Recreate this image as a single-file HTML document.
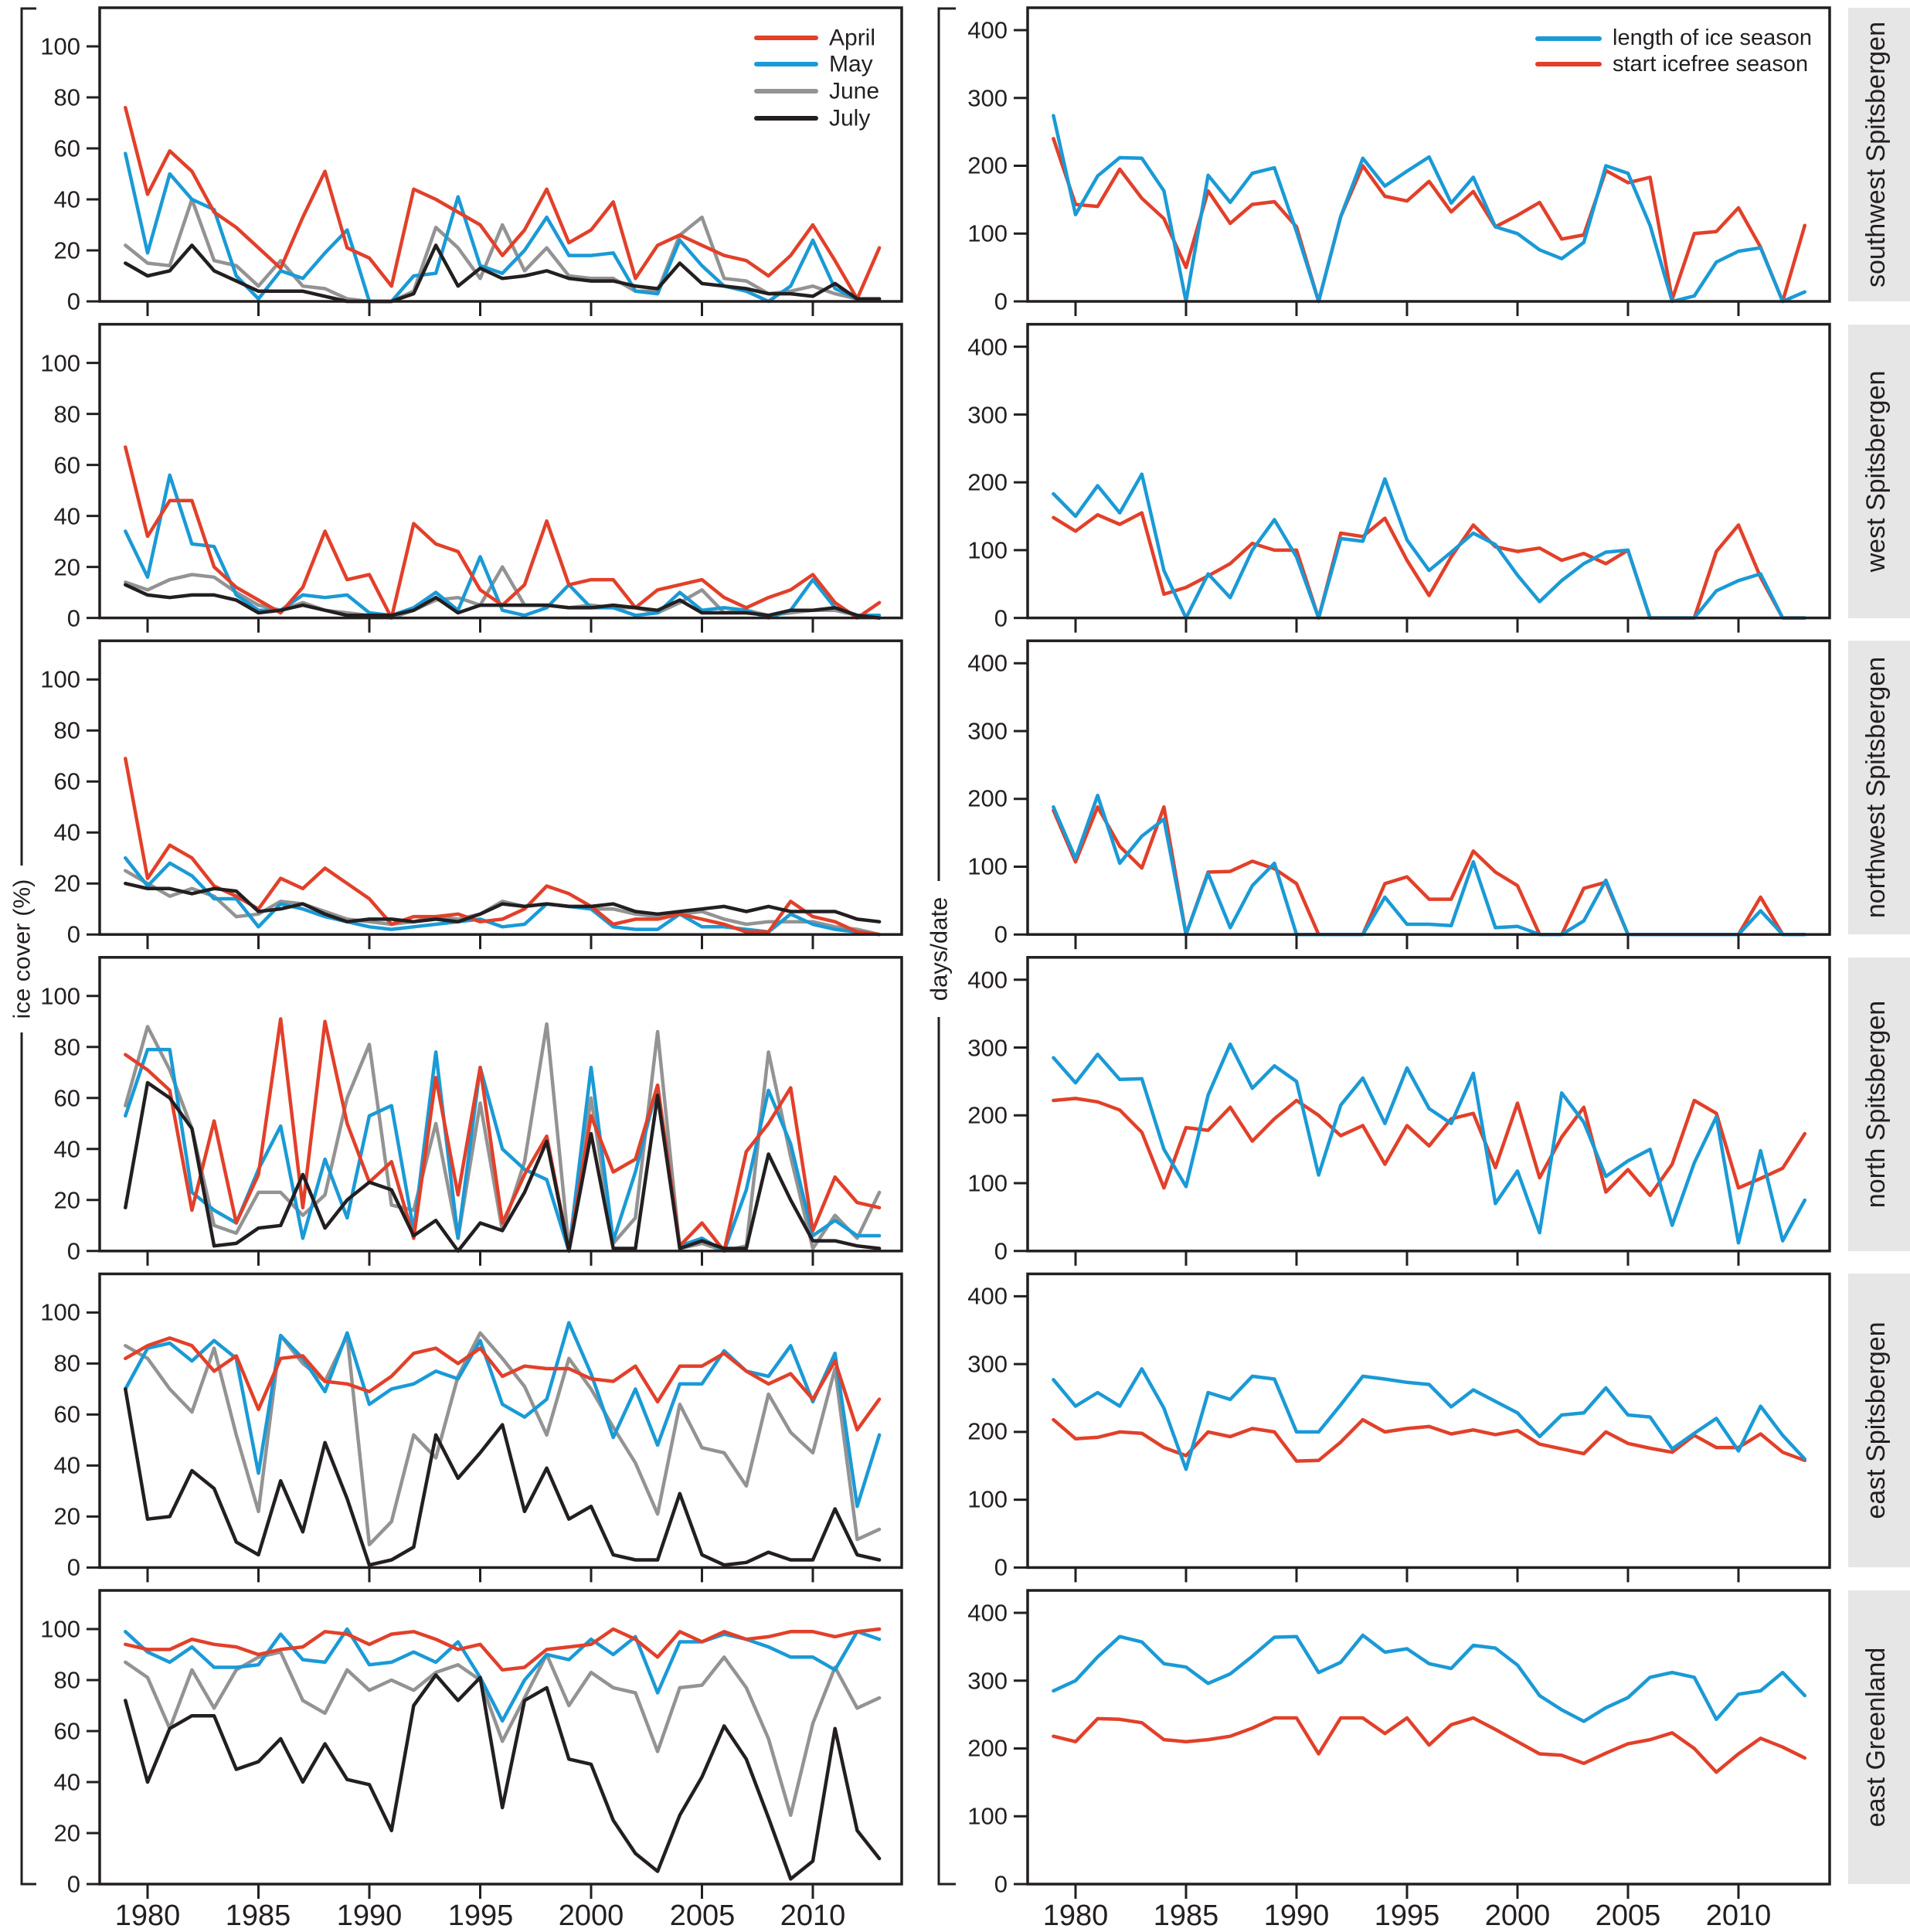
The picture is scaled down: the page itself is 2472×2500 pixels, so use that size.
<!DOCTYPE html>
<html><head><meta charset="utf-8"><style>
html,body{margin:0;padding:0;background:#fff;}
svg{display:block;}
text{font-family:"Liberation Sans Narrow","Liberation Sans",sans-serif;fill:#231f20;}
.tl{font-size:31px;text-anchor:end;dominant-baseline:central;}
.yr{font-size:38px;text-anchor:middle;}
.lg{font-size:30px;dominant-baseline:central;}
.rl{font-family:"Liberation Sans",sans-serif;font-size:34px;text-anchor:middle;dominant-baseline:central;}
.ax{font-family:"Liberation Sans",sans-serif;font-size:31px;text-anchor:middle;dominant-baseline:central;}
</style></head><body>
<svg id="s" width="2472" height="2500" viewBox="0 0 2472 2500" xmlns="http://www.w3.org/2000/svg">
<g id="g"></g>
<!-- brackets -->
<path d="M47,11 H28 V2438 H47" fill="none" stroke="#231f20" stroke-width="3"/>
<path d="M1237,11 H1215 V2438 H1237" fill="none" stroke="#231f20" stroke-width="3"/>
<rect x="10" y="1120" width="36" height="216" fill="#fff"/>
<rect x="1197" y="1140" width="36" height="176" fill="#fff"/>
<text class="ax" transform="translate(28,1228) rotate(-90)">ice cover (%)</text>
<text class="ax" transform="translate(1215,1228) rotate(-90)">days/date</text>
<!-- gray label boxes -->
<rect x="2392" y="10" width="80" height="380" fill="#e6e6e6"/>
<rect x="2392" y="420" width="80" height="380" fill="#e6e6e6"/>
<rect x="2392" y="829" width="80" height="380" fill="#e6e6e6"/>
<rect x="2392" y="1239" width="80" height="380" fill="#e6e6e6"/>
<rect x="2392" y="1648" width="80" height="380" fill="#e6e6e6"/>
<rect x="2392" y="2058" width="80" height="380" fill="#e6e6e6"/>
<text class="rl" transform="translate(2428,200) rotate(-90)">southwest Spitsbergen</text>
<text class="rl" transform="translate(2428,610) rotate(-90)">west Spitsbergen</text>
<text class="rl" transform="translate(2428,1019) rotate(-90)">northwest Spitsbergen</text>
<text class="rl" transform="translate(2428,1429) rotate(-90)">north Spitsbergen</text>
<text class="rl" transform="translate(2428,1838) rotate(-90)">east Spitsbergen</text>
<text class="rl" transform="translate(2428,2248) rotate(-90)">east Greenland</text>
<!-- left tick labels -->
<g class="tl">
<text x="104" y="390">0</text><text x="104" y="324">20</text><text x="104" y="258">40</text><text x="104" y="192">60</text><text x="104" y="126">80</text><text x="104" y="60">100</text>
<text x="104" y="800">0</text><text x="104" y="734">20</text><text x="104" y="668">40</text><text x="104" y="602">60</text><text x="104" y="536">80</text><text x="104" y="470">100</text>
<text x="104" y="1209">0</text><text x="104" y="1143">20</text><text x="104" y="1077">40</text><text x="104" y="1011">60</text><text x="104" y="945">80</text><text x="104" y="879">100</text>
<text x="104" y="1619">0</text><text x="104" y="1553">20</text><text x="104" y="1487">40</text><text x="104" y="1421">60</text><text x="104" y="1355">80</text><text x="104" y="1289">100</text>
<text x="104" y="2028">0</text><text x="104" y="1962">20</text><text x="104" y="1896">40</text><text x="104" y="1830">60</text><text x="104" y="1764">80</text><text x="104" y="1698">100</text>
<text x="104" y="2438">0</text><text x="104" y="2372">20</text><text x="104" y="2306">40</text><text x="104" y="2240">60</text><text x="104" y="2174">80</text><text x="104" y="2108">100</text>
<text x="1304" y="390">0</text><text x="1304" y="302">100</text><text x="1304" y="214">200</text><text x="1304" y="127">300</text><text x="1304" y="39">400</text>
<text x="1304" y="800">0</text><text x="1304" y="712">100</text><text x="1304" y="624">200</text><text x="1304" y="537">300</text><text x="1304" y="449">400</text>
<text x="1304" y="1209">0</text><text x="1304" y="1121">100</text><text x="1304" y="1033">200</text><text x="1304" y="946">300</text><text x="1304" y="858">400</text>
<text x="1304" y="1619">0</text><text x="1304" y="1531">100</text><text x="1304" y="1443">200</text><text x="1304" y="1356">300</text><text x="1304" y="1268">400</text>
<text x="1304" y="2028">0</text><text x="1304" y="1940">100</text><text x="1304" y="1852">200</text><text x="1304" y="1765">300</text><text x="1304" y="1677">400</text>
<text x="1304" y="2438">0</text><text x="1304" y="2350">100</text><text x="1304" y="2262">200</text><text x="1304" y="2175">300</text><text x="1304" y="2087">400</text>
</g>
<g class="yr">
<text x="191" y="2491">1980</text><text x="334" y="2491">1985</text><text x="478" y="2491">1990</text><text x="622" y="2491">1995</text><text x="765" y="2491">2000</text><text x="909" y="2491">2005</text><text x="1052" y="2491">2010</text>
<text x="1392" y="2491">1980</text><text x="1535" y="2491">1985</text><text x="1678" y="2491">1990</text><text x="1821" y="2491">1995</text><text x="1964" y="2491">2000</text><text x="2107" y="2491">2005</text><text x="2250" y="2491">2010</text>
</g>
<!-- legends -->
<g stroke-width="6" stroke-linecap="round">
<line x1="979" y1="49" x2="1056" y2="49" stroke="#e2402a"/>
<line x1="979" y1="83" x2="1056" y2="83" stroke="#1a9ad6"/>
<line x1="979" y1="118" x2="1056" y2="118" stroke="#939393"/>
<line x1="979" y1="153" x2="1056" y2="153" stroke="#231f20"/>
<line x1="1990" y1="50" x2="2070" y2="50" stroke="#1a9ad6"/>
<line x1="1990" y1="83" x2="2070" y2="83" stroke="#e2402a"/>
</g>
<g class="lg">
<text x="1073" y="49">April</text><text x="1073" y="83">May</text><text x="1073" y="118">June</text><text x="1073" y="153">July</text>
<text x="2087" y="49" style="font-family:'Liberation Sans',sans-serif;font-size:29px">length of ice season</text>
<text x="2087" y="83" style="font-family:'Liberation Sans',sans-serif;font-size:29px">start icefree season</text>
</g>
</svg>
<script>
var R='#e2402a',B='#1a9ad6',G='#939393',K='#231f20';
var L=[
[[76,42,59,51,35,29,21,13,33,51,21,17,6,44,40,35,30,18,28,44,23,28,39,9,22,26,22,18,16,10,18,30,16,1,21],
 [58,19,50,40,36,10,1,12,9,19,28,0,0,10,11,41,14,11,20,33,18,18,19,4,3,24,14,6,4,0,6,24,5,1,1],
 [22,15,14,40,16,14,6,16,6,5,1,0,0,4,29,21,9,30,12,21,10,9,9,4,4,26,33,9,8,3,4,6,3,1,1],
 [15,10,12,22,12,8,4,4,4,2,0,0,0,3,22,6,13,9,10,12,9,8,8,6,5,15,7,6,5,3,3,2,7,1,1]],
[[67,32,46,46,20,12,7,2,12,34,15,17,0,37,29,26,11,5,13,38,13,15,15,4,11,13,15,8,4,8,11,17,6,0,6],
 [34,16,56,29,28,9,3,3,9,8,9,2,1,4,10,3,24,3,1,4,13,4,4,1,2,10,3,4,3,0,3,15,4,1,1],
 [14,11,15,17,16,10,5,3,6,3,2,1,0,3,7,8,5,20,5,5,4,5,4,4,2,6,11,2,3,1,2,3,3,1,0],
 [13,9,8,9,9,7,2,3,5,3,1,1,1,3,8,2,5,5,5,5,4,4,5,4,3,7,2,2,2,1,3,3,4,1,0]],
[[69,22,35,30,19,15,10,22,18,26,20,14,4,7,7,8,5,6,10,19,16,11,4,6,6,8,6,4,1,1,13,7,5,1,0],
 [30,19,28,23,14,14,3,12,10,7,5,3,2,3,4,5,6,3,4,12,11,10,3,2,2,8,3,3,2,1,8,4,2,1,0],
 [25,20,15,18,15,7,8,13,12,9,6,5,4,5,7,6,8,13,11,12,11,10,10,8,7,8,9,6,4,5,5,5,3,2,0],
 [20,18,18,16,18,17,9,10,12,8,5,6,6,5,6,5,8,12,11,12,11,11,12,9,8,9,10,11,9,11,9,9,9,6,5]],
[[77,71,63,16,51,11,30,91,17,90,50,27,35,5,68,22,72,11,30,45,0,53,31,36,65,2,11,0,39,50,64,8,29,19,17],
 [53,79,79,23,16,11,32,49,5,36,13,53,57,8,78,5,72,40,32,28,0,72,4,31,65,2,5,0,24,63,42,6,12,6,6],
 [57,88,71,48,10,7,23,23,14,22,60,81,18,16,50,5,58,8,35,89,1,60,3,13,86,1,3,0,2,78,37,1,14,5,23],
 [17,66,60,48,2,3,9,10,30,9,20,27,24,6,12,0,11,8,23,43,0,46,1,1,61,1,4,1,1,38,20,4,4,2,1]],
[[82,87,90,87,77,83,62,82,83,73,72,69,75,84,86,80,86,75,79,78,78,74,73,79,65,79,79,84,77,72,76,66,81,54,66],
 [70,86,88,81,89,82,37,91,82,69,92,64,70,72,77,74,89,64,59,66,96,76,51,70,48,72,72,85,77,75,87,65,84,24,52],
 [87,82,70,61,86,52,22,91,80,73,91,9,18,52,43,75,92,82,71,52,82,70,55,41,21,64,47,45,32,68,53,45,78,11,15],
 [70,19,20,38,31,10,5,34,14,49,27,1,3,8,52,35,45,56,22,39,19,24,5,3,3,29,5,1,2,6,3,3,23,5,3]],
[[94,92,92,96,94,93,90,92,93,99,98,94,98,99,96,92,94,84,85,92,93,94,100,96,89,99,95,99,96,97,99,99,97,99,100],
 [99,91,87,93,85,85,86,98,88,87,100,86,87,91,87,95,81,64,80,90,88,96,90,97,75,95,95,98,96,93,89,89,84,99,96],
 [87,81,61,84,69,84,89,91,72,67,84,76,80,76,83,86,80,56,73,90,70,83,77,75,52,77,78,89,77,57,27,63,85,69,73],
 [72,40,61,66,66,45,48,57,40,55,41,39,21,70,82,72,81,30,72,77,49,47,25,12,5,27,42,62,49,26,2,9,61,21,10]]];
var Rt=[
[[274,128,185,212,211,163,0,186,146,189,197,103,0,125,211,170,192,213,145,183,110,100,76,63,87,200,189,112,0,8,58,74,79,0,14],
 [240,143,140,195,152,122,50,163,115,143,147,110,0,125,200,155,148,177,132,162,110,127,146,92,98,193,175,183,3,100,103,138,80,0,112]],
[[183,150,195,155,212,70,0,65,30,100,145,90,0,117,113,205,115,70,97,125,108,63,24,55,80,97,100,0,0,0,40,55,65,0,0],
 [148,128,152,138,155,35,45,62,80,110,100,100,0,125,120,147,85,33,90,137,105,98,103,85,95,80,100,0,0,0,98,137,60,0,0]],
[[188,112,205,105,145,170,0,90,10,72,105,0,0,0,0,55,15,15,13,107,10,12,0,0,20,80,0,0,0,0,0,0,35,0,0],
 [183,107,188,130,98,188,0,92,93,108,97,75,0,0,0,75,85,52,52,123,92,72,0,0,68,77,0,0,0,0,0,0,55,0,0]],
[[285,248,290,253,254,150,95,230,305,240,273,250,112,215,255,188,270,210,188,262,70,118,27,233,190,110,133,150,38,130,198,12,148,15,75],
 [222,225,220,208,175,93,182,178,212,162,195,222,200,170,185,128,185,155,195,203,123,218,108,168,212,87,120,82,128,222,203,93,107,122,173]],
[[277,238,258,238,293,235,145,258,248,282,278,200,200,240,282,278,273,270,237,262,245,228,193,225,228,265,225,222,175,198,220,172,238,195,160],
 [218,190,192,200,198,177,165,200,193,205,200,157,158,185,218,200,205,208,197,203,196,202,182,175,168,200,183,176,170,195,177,177,197,170,158]],
[[285,300,335,365,357,325,320,296,310,336,364,365,312,327,367,342,347,325,318,352,348,323,278,257,240,260,275,305,312,305,243,280,285,312,278],
 [218,210,244,243,238,213,210,213,218,230,245,245,192,245,245,222,245,205,235,245,228,210,192,190,178,193,207,213,223,200,165,192,215,202,186]]];
var h='';
function pl(xs,ys,c,w){var p='';for(var i=0;i<xs.length;i++)p+=(i?' ':'')+xs[i].toFixed(1)+','+ys[i].toFixed(1);
 return '<polyline points="'+p+'" fill="none" stroke="'+c+'" stroke-width="'+w+'" stroke-linejoin="round" stroke-linecap="round"/>';}
for(var k=0;k<6;k++){
 var Bt=390+409.6*k,T=Bt-380;
 // left panel
 var xs=[],xr=[];for(var i=0;i<35;i++){xs.push(191+(i-1)*28.7);xr.push(1392+(i-1)*28.6);}
 var cols=[G,B,R,K];var ord=[2,1,0,3];
 for(var j=0;j<4;j++){var s=ord[j];var ys=L[k][s].map(function(v){return Bt-3.3*v;});h+=pl(xs,ys,[R,B,G,K][s],4.5);}
 h+='<rect x="129" y="'+T+'" width="1038" height="380" fill="none" stroke="#231f20" stroke-width="3.5"/>';
 for(var v=0;v<=100;v+=20)h+='<line x1="112" x2="129" y1="'+(Bt-3.3*v)+'" y2="'+(Bt-3.3*v)+'" stroke="#231f20" stroke-width="3"/>';
 for(var y=1980;y<=2010;y+=5){var x=191+(y-1980)*28.7;h+='<line x1="'+x+'" x2="'+x+'" y1="'+Bt+'" y2="'+(Bt+19)+'" stroke="#231f20" stroke-width="3"/>';}
 // right
 var ys1=Rt[k][1].map(function(v){return Bt-0.8775*v;});var ys0=Rt[k][0].map(function(v){return Bt-0.8775*v;});
 h+=pl(xr,ys1,R,4.5);h+=pl(xr,ys0,B,4.5);
 h+='<rect x="1330" y="'+T+'" width="1038" height="380" fill="none" stroke="#231f20" stroke-width="3.5"/>';
 for(var v=0;v<=400;v+=100)h+='<line x1="1312" x2="1330" y1="'+(Bt-0.8775*v)+'" y2="'+(Bt-0.8775*v)+'" stroke="#231f20" stroke-width="3"/>';
 for(var y=1980;y<=2010;y+=5){var x=1392+(y-1980)*28.6;h+='<line x1="'+x+'" x2="'+x+'" y1="'+Bt+'" y2="'+(Bt+19)+'" stroke="#231f20" stroke-width="3"/>';}
}
document.getElementById('g').innerHTML=h;
</script>
</body></html>
